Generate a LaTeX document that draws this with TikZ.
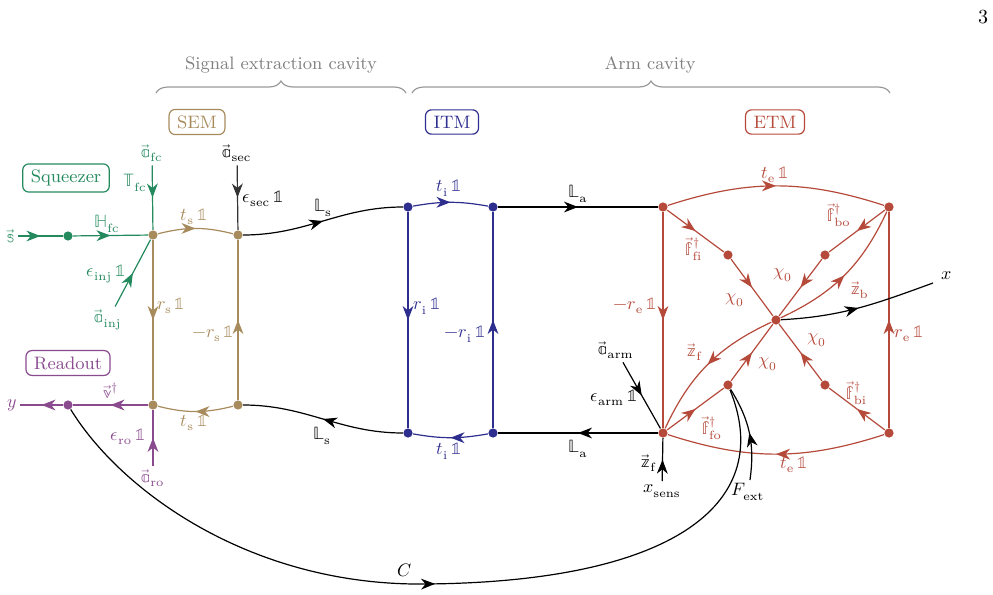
\documentclass[tikz,border=0pt]{standalone}
\usepackage{unicode-math}
\setmathfont{Latin Modern Math}
\usetikzlibrary{arrows.meta,decorations.markings,decorations.pathreplacing,positioning}

\definecolor{sqzcol}{HTML}{248A5E}
\definecolor{semcol}{HTML}{A88B5C}
\definecolor{itmcol}{HTML}{2E2E8F}
\definecolor{etmcol}{HTML}{B5493A}
\definecolor{rocol}{HTML}{8A4A8E}

\newcommand{\one}{\,\mathbb{1}}
\newcommand{\bbv}[1]{\vec{\mathbb{#1}}}

\tikzset{
  dot/.style={circle,fill,inner sep=0pt,minimum size=4.6pt},
  lbl/.style={inner sep=1.5pt,font=\small},
  box/.style={draw,rounded corners=3pt,inner xsep=4pt,inner ysep=3pt,font=\small},
  arr/.style={postaction={decorate,decoration={markings,
      mark=at position #1 with {\arrow{Stealth[length=7pt,width=5.4pt,inset=2.2pt]}}}}},
  arr/.default=0.5,
}

\begin{document}
\begin{tikzpicture}[x=0.5pt,y=-0.5pt,line width=0.6pt]
        \useasboundingbox (0,0) rectangle (993,595);

        % page number
        \node[font=\normalsize] (pg) at (983,17) {3};

        % braces
        \draw[gray!80,decorate,decoration={brace,amplitude=6pt}] (156,93) -- (406,93);
        \draw[gray!80,decorate,decoration={brace,amplitude=6pt}] (412,93) -- (890,93);
        \node[lbl,gray] (secav) at (281,65) {Signal extraction cavity};
        \node[lbl,gray] (armcav) at (650,65) {Arm cavity};

        % boxes
        \node[box,semcol] (sem) at (197,122) {SEM};
        \node[box,itmcol] (itm) at (452,122) {ITM};
        \node[box,etmcol] (etm) at (775,122) {ETM};
        \node[box,sqzcol] (sqzbox) at (66,178) {Squeezer};
        \node[box,rocol] (robox) at (68,363) {Readout};

        % draw nodes
        \node[dot,sqzcol] (sqz) at (68,236) {};
        \node[dot,rocol] (ro) at (68,405) {};
        \node[dot,semcol] (sl1) at (153,235) {};
        \node[dot,semcol] (sr1) at (238,235) {};
        \node[dot,semcol] (sl2) at (153,405) {};
        \node[dot,semcol] (sr2) at (238,405) {};
        \node[dot,itmcol] (il1) at (408,207) {};
        \node[dot,itmcol] (ir1) at (493,207) {};
        \node[dot,itmcol] (il2) at (408,433) {};
        \node[dot,itmcol] (ir2) at (493,433) {};
        \node[dot,etmcol] (el1) at (663,207) {};
        \node[dot,etmcol] (er1) at (889,207) {};
        \node[dot,etmcol] (el2) at (663,433) {};
        \node[dot,etmcol] (er2) at (889,433) {};
        \node[dot,etmcol] (ec) at (776,320) {};
        \node[dot,etmcol] (ffi) at (728,255) {};
        \node[dot,etmcol] (fbo) at (825,255) {};
        \node[dot,etmcol] (fbi) at (825,385) {};
        \node[dot,etmcol] (ffo) at (728,385) {};

        % inputs and outputs
        \node[lbl,sqzcol] (sin) at (11,236) {$\bbv{s}$};
        \node[lbl,sqzcol] (afc) at (152,153) {$\bbv{a}_{\mathrm{fc}}$};
        \node[lbl,sqzcol] (ainj) at (108,320) {$\bbv{a}_{\mathrm{inj}}$};
        \node[lbl] (asec) at (237,153) {$\bbv{a}_{\mathrm{sec}}$};
        \node[lbl,rocol] (yout) at (12,405) {$y$};
        \node[lbl,rocol] (aro) at (153,478) {$\bbv{a}_{\mathrm{ro}}$};
        \node[lbl] (aarm) at (616,350) {$\bbv{a}_{\mathrm{arm}}$};
        \node[lbl] (xsens) at (662,491) {$x_{\mathrm{sens}}$};
        \node[lbl] (fext) at (748,492) {$F_{\mathrm{ext}}$};
        \coordinate (xe) at (933,283);
        \node[lbl] (xout) at (947,276) {$x$};
        \coordinate (cbot) at (425,584);

        % squeezer
        \draw[sqzcol,arr] (sin) -- (sqz);
        \draw[sqzcol,arr] (sqz) -- (sl1);
        \draw[sqzcol,arr] (afc) -- (sl1);
        \draw[sqzcol,arr] (ainj) -- (sl1);
        \node[lbl,sqzcol] (hfc) at (107,224) {$\mathbb{H}_{\mathrm{fc}}$};
        \node[lbl,sqzcol] (tfc) at (135,183) {$\mathbb{T}_{\mathrm{fc}}$};
        \node[lbl,sqzcol] (einj) at (106,274) {$\epsilon_{\mathrm{inj}}\one$};

        % signal extraction mirror
        \draw[semcol,arr] (sl1) to[bend left=14] (sr1);
        \draw[semcol,arr] (sl1) -- (sl2);
        \draw[semcol,arr] (sr2) -- (sr1);
        \draw[semcol,arr] (sr2) to[bend left=14] (sl2);
        \draw[black!80,arr] (asec) -- (sr1);
        \node[lbl,semcol] (ts1) at (194,217) {$t_{\mathrm{s}}\one$};
        \node[lbl,semcol] (ts2) at (194,423) {$t_{\mathrm{s}}\one$};
        \node[lbl,semcol] (rs1) at (171,306) {$r_{\mathrm{s}}\one$};
        \node[lbl,semcol] (rs2) at (213,334) {$-r_{\mathrm{s}}\one$};
        \node[lbl] (esec) at (263,199) {$\epsilon_{\mathrm{sec}}\one$};

        % readout
        \draw[rocol,arr] (sl2) -- (ro);
        \draw[rocol,arr] (ro) -- (yout);
        \draw[rocol,arr] (aro) -- (sl2);
        \node[lbl,rocol] (vdag) at (111,391) {$\bbv{v}^{\dagger}$};
        \node[lbl,rocol] (ero) at (128,437) {$\epsilon_{\mathrm{ro}}\one$};

        % signal extraction cavity
        \draw[arr] (sr1) to[out=0,in=180] (il1);
        \draw[arr] (il2) to[out=180,in=0] (sr2);
        \node[lbl] (ls1) at (323,208) {$\mathbb{L}_{\mathrm{s}}$};
        \node[lbl] (ls2) at (322,436) {$\mathbb{L}_{\mathrm{s}}$};

        % input test mass
        \draw[itmcol,arr] (il1) to[bend left=10] (ir1);
        \draw[itmcol,arr] (il1) -- (il2);
        \draw[itmcol,arr] (ir2) -- (ir1);
        \draw[itmcol,arr] (ir2) to[bend left=10] (il2);
        \node[lbl,itmcol] (ti1) at (449,188) {$t_{\mathrm{i}}\one$};
        \node[lbl,itmcol] (ti2) at (449,451) {$t_{\mathrm{i}}\one$};
        \node[lbl,itmcol] (ri1) at (427,306) {$r_{\mathrm{i}}\one$};
        \node[lbl,itmcol] (ri2) at (465,334) {$-r_{\mathrm{i}}\one$};

        % arm cavity
        \draw[arr] (ir1) -- (el1);
        \draw[arr] (el2) -- (ir2);
        \node[lbl] (la1) at (578,194) {$\mathbb{L}_{\mathrm{a}}$};
        \node[lbl] (la2) at (578,449) {$\mathbb{L}_{\mathrm{a}}$};

        % end test mass
        \draw[etmcol,arr] (el1) to[bend left=18] (er1);
        \draw[etmcol,arr] (er2) to[bend left=18] (el2);
        \draw[etmcol,arr] (el1) -- (el2);
        \draw[etmcol,arr] (er2) -- (er1);
        \foreach \a/\b in {el1/ffi,ffi/ec,er1/fbo,fbo/ec,er2/fbi,fbi/ec,el2/ffo,ffo/ec}
          \draw[etmcol,arr] (\a) -- (\b);
        \draw[etmcol,arr] (ec) to[bend right=20] (er1);
        \draw[etmcol,arr] (ec) to[bend right=20] (el2);
        \node[lbl,etmcol] (te1) at (775,175) {$t_{\mathrm{e}}\one$};
        \node[lbl,etmcol] (te2) at (794,465) {$t_{\mathrm{e}}\one$};
        \node[lbl,etmcol] (re1) at (635,306) {$-r_{\mathrm{e}}\one$};
        \node[lbl,etmcol] (re2) at (909,334) {$r_{\mathrm{e}}\one$};
        \node[lbl,etmcol] (lfi) at (694,249) {$\bbv{f}^{\dagger}_{\mathrm{fi}}$};
        \node[lbl,etmcol] (lbo) at (839,215) {$\bbv{f}^{\dagger}_{\mathrm{bo}}$};
        \node[lbl,etmcol] (lbi) at (857,393) {$\bbv{f}^{\dagger}_{\mathrm{bi}}$};
        \node[lbl,etmcol] (lfo) at (712,428) {$\bbv{f}^{\dagger}_{\mathrm{fo}}$};
        \node[lbl,etmcol] (chi1) at (735,300) {$\chi_0$};
        \node[lbl,etmcol] (chi2) at (783,275) {$\chi_0$};
        \node[lbl,etmcol] (chi3) at (817,340) {$\chi_0$};
        \node[lbl,etmcol] (chi4) at (768,364) {$\chi_0$};
        \node[lbl,etmcol] (lzb) at (860,290) {$\bbv{z}_{\mathrm{b}}$};
        \node[lbl,etmcol] (lzf) at (695,352) {$\bbv{z}_{\mathrm{f}}$};

        % sensing, forces and feedback
        \draw[arr] (ec) to[out=3,in=200] (xe);
        \draw[arr] (aarm) -- (el2);
        \draw[arr] (xsens) -- (el2);
        \draw[arr] (fext) to[bend right=20] (ffo);
        \draw[arr] (ro) .. controls (120,490) and (250,586) .. (cbot)
                        .. controls (680,582) and (775,500) .. (ffo);
        \node[lbl] (earm) at (614,398) {$\epsilon_{\mathrm{arm}}\one$};
        \node[lbl] (lzs) at (649,463) {$\bbv{z}_{\mathrm{f}}$};
        \node[lbl] (cl) at (405,570) {$C$};
\end{tikzpicture}
\end{document}
